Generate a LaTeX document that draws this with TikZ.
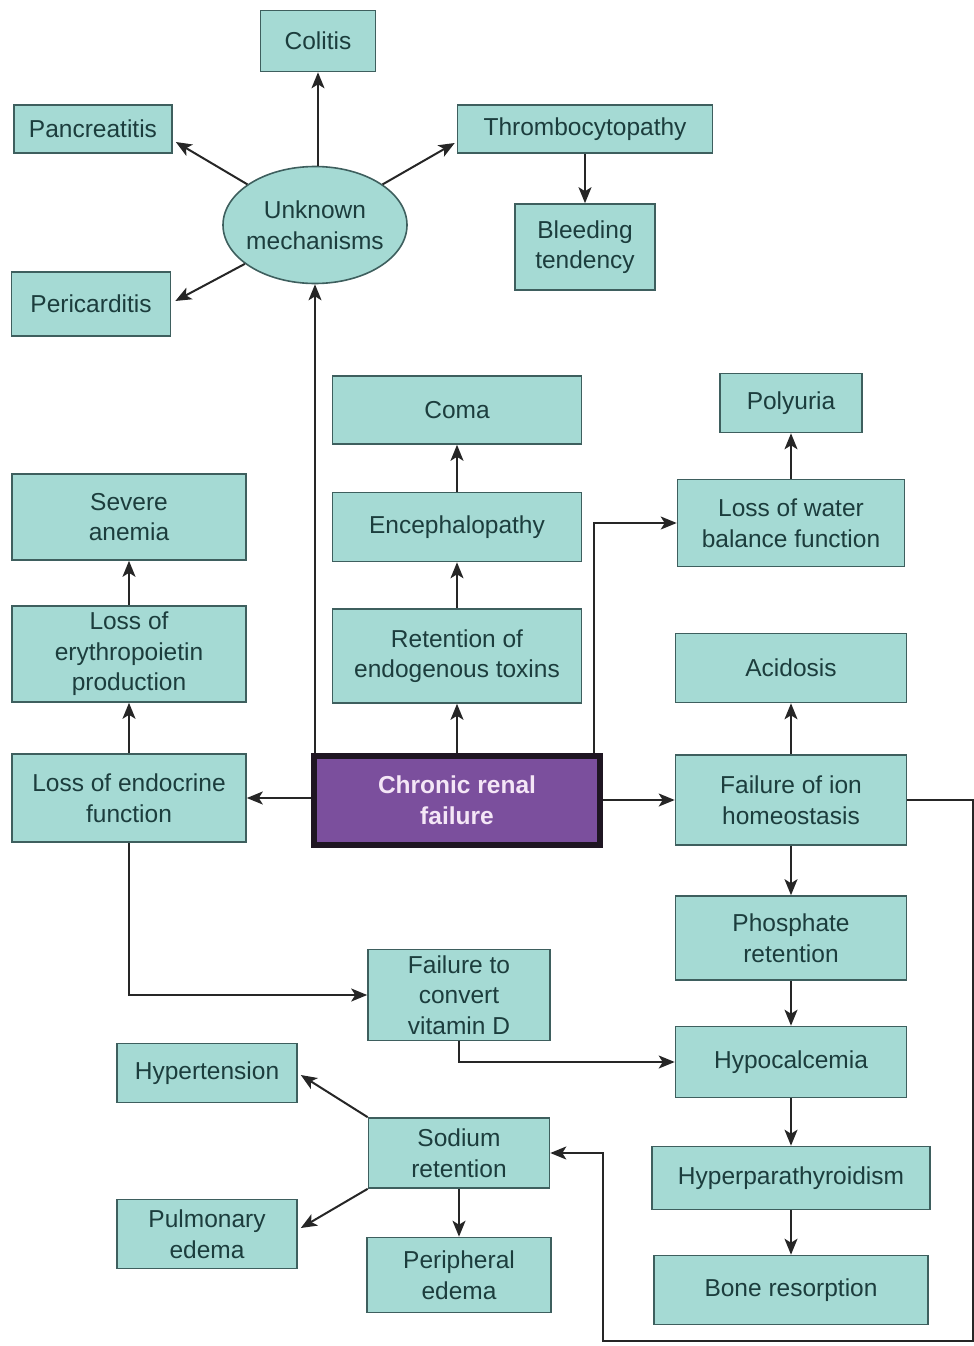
\documentclass[tikz,border=0pt]{standalone}
\usepackage{fontspec}
\setmainfont{Liberation Sans}
\usetikzlibrary{shapes.geometric,arrows.meta}
\definecolor{boxfill}{HTML}{A5DAD4}
\definecolor{boxline}{HTML}{3E5F5E}
\definecolor{boxtext}{HTML}{1C3D3D}
\definecolor{crffill}{HTML}{7B4F9D}
\definecolor{crfline}{HTML}{1F1622}
\definecolor{crftext}{HTML}{F4E6F6}
\definecolor{linecol}{HTML}{262626}
\tikzset{
  box/.style={draw=boxline, fill=boxfill, line width=1.6pt, text=boxtext, align=center,
    inner sep=0pt, font=\fontsize{24.5}{30.5}\selectfont},
  crfbox/.style={draw=crfline, fill=crffill, line width=6pt, text=crftext, align=center,
    inner sep=0pt, font=\fontsize{24.5}{30.5}\selectfont\bfseries},
  unkbox/.style={ellipse, draw=boxline, fill=boxfill, line width=1.6pt, text=boxtext, align=center,
    inner xsep=-4pt, inner ysep=0pt, font=\fontsize{24.5}{30.5}\selectfont},
  arr/.style={draw=linecol, line width=2pt, -{Stealth[length=16pt,width=13pt,inset=4pt]}},
  plain/.style={draw=linecol, line width=2pt}
}
\begin{document}
\begin{tikzpicture}[x=1pt,y=-1pt]
\useasboundingbox (0,0) rectangle (974,1346);
% top cluster
\node[box, minimum width=115, minimum height=61] (colitis) at (318,41) {Colitis};
\node[box, minimum width=158, minimum height=48] (panc) at (93,129) {Pancreatitis};
\node[box, minimum width=255, minimum height=48] (thromb) at (585,129) {Thrombocytopathy};
\node[unkbox, minimum width=184, minimum height=117] (unk) at (315,225) {Unknown\\mechanisms};
\node[box, minimum width=140, minimum height=86] (bleed) at (585,247) {Bleeding\\tendency};
\node[box, minimum width=159, minimum height=64] (peri) at (91,304) {Pericarditis};
% middle
\node[box, minimum width=249, minimum height=68] (coma) at (457,410) {Coma};
\node[box, minimum width=142, minimum height=59] (poly) at (791,403) {Polyuria};
\node[box, minimum width=234, minimum height=86] (anemia) at (129,517) {Severe\\anemia};
\node[box, minimum width=249, minimum height=69] (enc) at (457,527) {Encephalopathy};
\node[box, minimum width=227, minimum height=87] (water) at (791,523) {Loss of water\\balance function};
\node[box, minimum width=234, minimum height=96] (ery) at (129,654) {Loss of\\erythropoietin\\production};
\node[box, minimum width=249, minimum height=94] (ret) at (457,656) {Retention of\\endogenous toxins};
\node[box, minimum width=231, minimum height=69] (acid) at (791,668) {Acidosis};
\node[box, minimum width=234, minimum height=88] (endo) at (129,798) {Loss of endocrine\\function};
\node[crfbox, minimum width=286, minimum height=89] (crf) at (457,800) {Chronic renal\\failure};
\node[box, minimum width=231, minimum height=90] (ion) at (791,800) {Failure of ion\\homeostasis};
% lower
\node[box, minimum width=231, minimum height=84] (phos) at (791,938) {Phosphate\\retention};
\node[box, minimum width=182, minimum height=91] (vitd) at (459,995) {Failure to\\convert\\vitamin D};
\node[box, minimum width=231, minimum height=71] (hypo) at (791,1062) {Hypocalcemia};
\node[box, minimum width=180, minimum height=59] (hyp) at (207,1073) {Hypertension};
\node[box, minimum width=181, minimum height=70] (sod) at (459,1153) {Sodium\\retention};
\node[box, minimum width=278, minimum height=63] (para) at (791,1178) {Hyperparathyroidism};
\node[box, minimum width=180, minimum height=69] (pulm) at (207,1234) {Pulmonary\\edema};
\node[box, minimum width=184, minimum height=75] (periph) at (459,1275) {Peripheral\\edema};
\node[box, minimum width=274, minimum height=69] (bone) at (791,1290) {Bone resorption};
% connectors: top cluster
\draw[arr] (unk.north -| colitis.south) -- (colitis.south);
\draw[arr] (unk.149) -- ([xshift=3pt,yshift=-13pt]panc.east);
\draw[arr] (unk.31) -- ([xshift=-2pt,yshift=-14pt]thromb.west);
\draw[arr] (unk.209) -- ([xshift=4pt,yshift=3pt]peri.east);
\draw[arr] (thromb.south) -- (bleed.north);
% from CRF
\draw[arr] (unk.south |- crf.north) -- (unk.south);
\draw[arr] (crf.north) -- (ret.south);
\draw[arr] (ret.north) -- (enc.south);
\draw[arr] (enc.north) -- (coma.south);
\draw[arr] ([xshift=-9pt]crf.north east) |- (water.west);
\draw[arr] (water.north) -- (poly.south);
\draw[arr] (crf.west |- endo.east) -- (endo.east);
\draw[arr] (endo.north) -- (ery.south);
\draw[arr] (ery.north) -- (anemia.south);
\draw[arr] (endo.south) |- (vitd.west);
\draw[arr] (crf.east) -- (ion.west);
\draw[arr] (ion.north) -- (acid.south);
\draw[arr] (ion.south) -- (phos.north);
\draw[arr] (phos.south) -- (hypo.north);
\draw[arr] (vitd.south) |- (hypo.west);
\draw[arr] (hypo.south) -- (para.north);
\draw[arr] (para.south) -- (bone.north);
% loop to sodium retention
\coordinate (c1) at (973,800);
\coordinate (c2) at (973,1341);
\coordinate (c3) at (603,1341);
\draw[arr] (ion.east) -- (c1) -- (c2) -- (c3) |- (sod.east);
% sodium
\draw[arr] (sod.north west) -- ([xshift=3pt,yshift=-2pt]hyp.east);
\draw[arr] (sod.south west) -- ([xshift=3pt,yshift=6pt]pulm.east);
\draw[arr] (sod.south) -- (periph.north);
\end{tikzpicture}
\end{document}
